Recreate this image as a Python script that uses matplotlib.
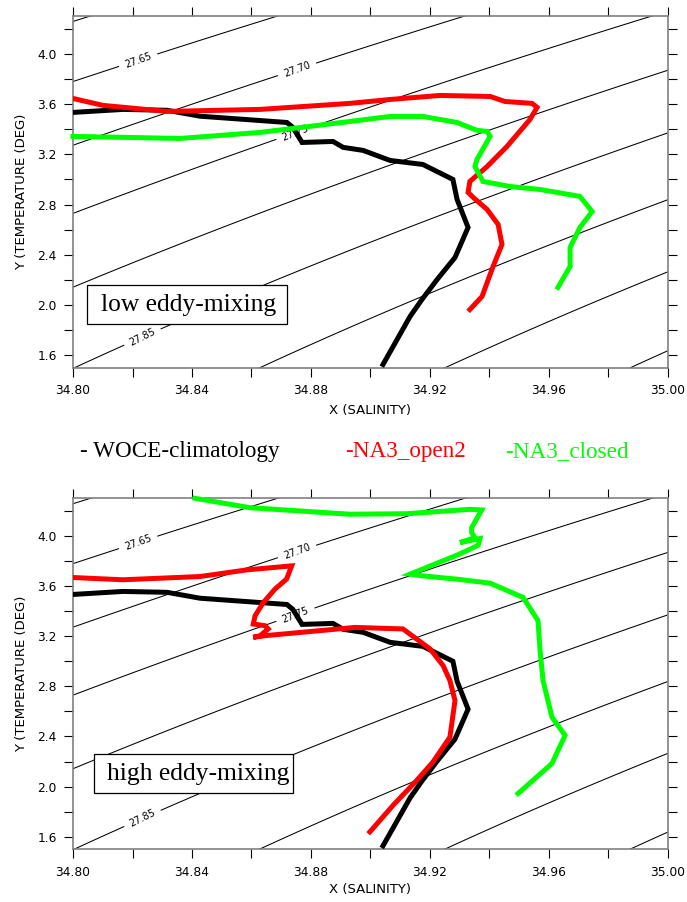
import numpy as np
import matplotlib
matplotlib.use("Agg")
import matplotlib.pyplot as plt
from matplotlib.patches import Rectangle

# ---------------- data ----------------
# WOCE climatology (same in both panels)
woce_S = [34.800, 34.8168, 34.8316, 34.8427, 34.8719, 34.8739, 34.8770, 34.8874, 34.8908,
          34.8975, 34.9066, 34.9176, 34.9277, 34.9291, 34.9328, 34.9284, 34.9224, 34.9173,
          34.9133, 34.9042]
woce_T = [3.533, 3.557, 3.550, 3.503, 3.453, 3.414, 3.294, 3.302, 3.255,
          3.231, 3.151, 3.119, 3.000, 2.841, 2.618, 2.379, 2.204, 2.045,
          1.910, 1.528]

# low eddy-mixing
low_open_S = [34.800, 34.8101, 34.8316, 34.8629, 34.8931, 34.9066, 34.9234, 34.9402, 34.9452,
              34.9543, 34.9560, 34.9536, 34.9459, 34.9392, 34.9334, 34.9328, 34.9345, 34.9392,
              34.9429, 34.9442, 34.9412, 34.9375, 34.9334]
low_open_T = [3.644, 3.589, 3.541, 3.557, 3.605, 3.636, 3.668, 3.660, 3.620,
              3.605, 3.573, 3.477, 3.263, 3.103, 2.984, 2.897, 2.857, 2.761,
              2.642, 2.483, 2.308, 2.069, 1.965]
low_closed_S = [34.800, 34.8360, 34.8629, 34.8931, 34.9066, 34.9176, 34.9291, 34.9358, 34.9392,
                34.9402, 34.9358, 34.9351, 34.9378, 34.9469, 34.9570, 34.9704, 34.9745, 34.9704,
                34.9671, 34.9671, 34.9630]
low_closed_T = [3.342, 3.326, 3.374, 3.461, 3.501, 3.501, 3.453, 3.390, 3.382,
                3.342, 3.159, 3.103, 2.984, 2.944, 2.920, 2.865, 2.745, 2.618,
                2.459, 2.308, 2.141]

# high eddy-mixing
high_open_S = [34.800, 34.8168, 34.8427, 34.8585, 34.8735, 34.8718, 34.8679, 34.8640, 34.8612,
               34.8606, 34.8645, 34.8656, 34.8629, 34.8606, 34.8645, 34.8948, 34.9109, 34.9200,
               34.9244, 34.9267, 34.9284, 34.9267, 34.9210, 34.9156, 34.9076, 34.8998]
high_open_T = [3.668, 3.650, 3.676, 3.729, 3.761, 3.656, 3.576, 3.469, 3.363,
               3.297, 3.284, 3.258, 3.204, 3.191, 3.204, 3.270, 3.258, 3.099,
               2.966, 2.846, 2.687, 2.395, 2.197, 2.051, 1.851, 1.639]
high_closed_S = [34.8410, 34.8595, 34.8931, 34.9123, 34.9334, 34.9374, 34.9340, 34.9340, 34.9351,
                 34.9301, 34.9368, 34.9362, 34.9323, 34.9290, 34.9133, 34.9172, 34.9290, 34.9402,
                 34.9513, 34.9563, 34.9570, 34.9580, 34.9610, 34.9654, 34.9610, 34.9496]
high_closed_T = [4.300, 4.225, 4.173, 4.177, 4.212, 4.207, 4.066, 4.027, 3.986,
                 3.947, 3.979, 3.926, 3.881, 3.846, 3.695, 3.682, 3.655, 3.623,
                 3.509, 3.324, 3.085, 2.846, 2.554, 2.409, 2.184, 1.945]

# isopycnal levels (sigma-theta): plain ones and labelled ones
plain_levels = [27.50, 27.55, 27.60, 27.80, 27.90, 27.95, 28.00, 28.05]
labelled_levels = [27.65, 27.70, 27.75, 27.85]
label_positions = [(34.8218, 3.954), (34.8753, 3.875), (34.8753, 3.342), (34.8232, 1.753)]

x_ticks = [34.80, 34.84, 34.88, 34.92, 34.96, 35.00]
y_ticks = [1.6, 2.0, 2.4, 2.8, 3.2, 3.6, 4.0]

panel_titles = ["low eddy-mixing", "high eddy-mixing"]
legend_names = ["- WOCE-climatology", "-NA3_open2", "-NA3_closed"]
legend_colors = ["black", "#ff0000", "#00ff00"]


def sigma0(S, T):
    """UNESCO EOS-80 density at p=0, minus 1000."""
    rw = (999.842594 + 6.793952e-2 * T - 9.095290e-3 * T**2 + 1.001685e-4 * T**3
          - 1.120083e-6 * T**4 + 6.536332e-9 * T**5)
    A = 0.824493 - 4.0899e-3 * T + 7.6438e-5 * T**2 - 8.2467e-7 * T**3 + 5.3875e-9 * T**4
    B = -5.72466e-3 + 1.0227e-4 * T - 1.6546e-6 * T**2
    C = 4.8314e-4
    return rw + A * S + B * S**1.5 + C * S**2 - 1000.0


W, H = 687, 902
fig = plt.figure(figsize=(W / 100, H / 100), dpi=100)

def fx(px):
    return px / W

def fy(py):
    return 1 - py / H

panels = [
    dict(top=16, bottom=368, open=(low_open_S, low_open_T), closed=(low_closed_S, low_closed_T),
         box=(87, 285, 287, 324), text_xy=(188.5, 305), xlab_y=-0.102),
    dict(top=498.3, bottom=849.3, open=(high_open_S, high_open_T), closed=(high_closed_S, high_closed_T),
         box=(94.3, 754, 293.3, 793.3), text_xy=(198, 774), xlab_y=-0.097),
]

Sg, Tg = np.meshgrid(np.linspace(34.78, 35.02, 300), np.linspace(1.4, 4.4, 300))
Dg = sigma0(Sg, Tg)

for i, p in enumerate(panels):
    ax = fig.add_axes([fx(73), fy(p["bottom"]), fx(595), (p["bottom"] - p["top"]) / H])
    ax.contour(Sg, Tg, Dg, levels=plain_levels, colors="black", linewidths=0.75)
    cs = ax.contour(Sg, Tg, Dg, levels=labelled_levels, colors="black", linewidths=0.75)
    ax.clabel(cs, manual=label_positions, fmt="%.2f",
              fontsize=7, inline=True, inline_spacing=3)

    ax.plot(woce_S, woce_T, color="black", lw=3.6, solid_joinstyle="miter", zorder=5)
    ax.plot(*p["open"], color="#ff0000", lw=3.6, solid_joinstyle="miter", zorder=5)
    ax.plot(*p["closed"], color="#00ff00", lw=3.6, solid_joinstyle="miter", zorder=5, clip_on=False)

    ax.set_xlim(34.80, 35.00)
    ax.set_ylim(1.5, 4.3)
    ax.set_xticks(x_ticks)
    ax.set_xticklabels([f"{v:.2f}" for v in x_ticks])
    ax.set_xticks(np.arange(34.82, 35.0, 0.04), minor=True)
    ax.set_yticks(y_ticks)
    ax.set_yticklabels([f"{v:.1f}" for v in y_ticks])
    ax.set_yticks(np.arange(1.8, 4.3, 0.4), minor=True)
    for which in ("major", "minor"):
        ax.tick_params(axis="both", which=which, direction="out", length=6.8, width=0.8,
                       color="black", top=True, right=True, labelsize=8.8, pad=5)
    for sp in ax.spines.values():
        sp.set_color("#808080")
        sp.set_linewidth(1.2)
    ax.set_xlabel("X (SALINITY)", fontsize=9.5)
    ax.set_ylabel("Y (TEMPERATURE (DEG)", fontsize=9.5)
    ax.xaxis.set_label_coords(0.5, p["xlab_y"])
    ax.yaxis.set_label_coords(-0.0756, 0.5)

    x0, y0, x1, y1 = p["box"]
    fig.add_artist(Rectangle((fx(x0), fy(y1)), fx(x1 - x0), (y1 - y0) / H,
                             transform=fig.transFigure, fc="white", ec="black", lw=0.9, zorder=10))
    fig.text(fx(p["text_xy"][0]), fy(p["text_xy"][1]), panel_titles[i], ha="center", va="center",
             family="Liberation Serif", fontsize=18.4, zorder=11)

legend_x = [80, 345, 505]
for name, col, lx in zip(legend_names, legend_colors, legend_x):
    fig.text(fx(lx), fy(452), name, color=col, ha="left", va="center",
             family="Liberation Serif", fontsize=16.7)

fig.savefig("out.png", dpi=100)
